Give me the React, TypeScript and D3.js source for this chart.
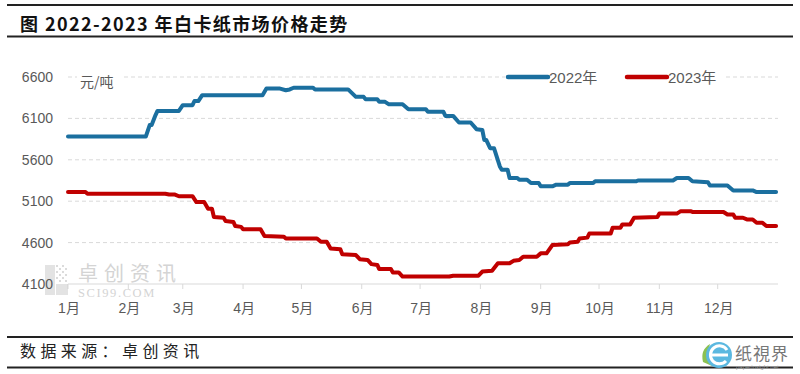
import React from "react";
import * as d3 from "d3";

// 白卡纸价格 (元/吨), dates as MM-DD on a shared month axis
const dates2022 = [
  "01-01", "02-10", "02-12", "02-13", "02-15", "02-16", "02-27", "03-01", "03-06", "03-07",
  "03-09", "03-11", "04-11", "04-13", "04-20", "04-23", "04-25", "04-27", "05-07", "05-08",
  "05-25", "05-29", "06-02", "06-03", "06-09", "06-10", "06-13", "06-15", "06-22", "06-25",
  "07-04", "07-05", "07-13", "07-14", "07-18", "07-21", "07-27", "07-30", "08-02", "08-03",
  "08-04", "08-06", "08-08", "08-11", "08-12", "08-15", "08-16", "08-20", "08-21", "08-25",
  "08-27", "08-31", "09-01", "09-07", "09-09", "09-15", "09-16", "09-28", "09-29", "10-20",
  "10-21", "11-08", "11-10", "11-16", "11-18", "11-26", "11-27", "12-06", "12-09", "12-19",
  "12-21", "12-31",
];
const values2022 = [
  5880, 5880, 6020, 6020, 6140, 6190, 6190, 6260, 6260, 6310,
  6310, 6380, 6380, 6460, 6460, 6440, 6450, 6470, 6470, 6450,
  6450, 6360, 6360, 6330, 6330, 6300, 6300, 6270, 6270, 6210,
  6210, 6180, 6180, 6130, 6130, 6050, 6050, 5970, 5960, 5840,
  5840, 5740, 5740, 5520, 5480, 5480, 5380, 5380, 5360, 5360,
  5320, 5320, 5280, 5280, 5300, 5300, 5320, 5320, 5340, 5340,
  5350, 5350, 5380, 5380, 5340, 5330, 5290, 5290, 5230, 5230,
  5210, 5210,
];

const dates2023 = [
  "01-01", "01-10", "01-11", "02-20", "02-22", "02-25", "02-27", "03-06", "03-08", "03-12",
  "03-14", "03-16", "03-17", "03-22", "03-23", "03-27", "03-28", "03-31", "04-01", "04-10",
  "04-12", "04-22", "04-23", "05-09", "05-11", "05-14", "05-16", "05-21", "05-22", "05-29",
  "05-31", "06-04", "06-06", "06-09", "06-10", "06-16", "06-17", "06-20", "06-22", "07-16",
  "07-18", "07-31", "08-02", "08-07", "08-10", "08-16", "08-18", "08-21", "08-23", "08-30",
  "09-01", "09-04", "09-07", "09-15", "09-16", "09-20", "09-21", "09-25", "09-26", "10-07",
  "10-08", "10-12", "10-13", "10-17", "10-19", "10-31", "11-01", "11-10", "11-12", "11-17",
  "11-18", "12-04", "12-06", "12-09", "12-10", "12-14", "12-16", "12-19", "12-21", "12-24",
  "12-26", "12-31",
];
const values2023 = [
  5210, 5210, 5190, 5190, 5180, 5180, 5160, 5160, 5090, 5090,
  5010, 5010, 4910, 4900, 4860, 4850, 4800, 4790, 4760, 4760,
  4680, 4670, 4650, 4650, 4610, 4610, 4530, 4520, 4460, 4450,
  4400, 4390, 4340, 4330, 4280, 4280, 4240, 4240, 4190, 4190,
  4200, 4200, 4250, 4260, 4350, 4350, 4380, 4390, 4430, 4430,
  4470, 4470, 4570, 4580, 4600, 4610, 4650, 4660, 4710, 4710,
  4780, 4780, 4820, 4820, 4900, 4910, 4950, 4950, 4980, 4980,
  4970, 4970, 4940, 4940, 4900, 4900, 4880, 4880, 4840, 4840,
  4800, 4800,
];

const yTicks = [4100, 4600, 5100, 5600, 6100, 6600];
const monthLabels = ["1月", "2月", "3月", "4月", "5月", "6月", "7月", "8月", "9月", "10月", "11月", "12月"];
const seriesNames = ["2022年", "2023年"];
const colors = ["#1b6f9f", "#c00000"];

const W = 800;
const H = 374;
const parse = d3.timeParse("%Y-%m-%d");

export default function App() {
  const x = d3
    .scaleTime()
    .domain([new Date(2022, 0, 1), new Date(2023, 0, 1)])
    .range([68, 778]);
  const y = d3.scaleLinear().domain([4100, 6600]).range([284, 77]);

  const series = [
    dates2022.map((d, i) => ({ date: parse("2022-" + d), value: values2022[i] })),
    dates2023.map((d, i) => ({ date: parse("2022-" + d), value: values2023[i] })),
  ];

  const line = d3
    .line<{ date: Date | null; value: number }>()
    .x((d) => x(d.date as Date))
    .y((d) => y(d.value));

  const monthTicks = d3.timeMonth.range(new Date(2022, 0, 1), new Date(2023, 0, 1));

  const labelFont = "'Liberation Sans', 'Noto Sans CJK SC', sans-serif";
  const cjk = "'Noto Sans CJK SC', sans-serif";

  // watermark icon cells
  const cells: [number, number][] = [];
  for (let r = 0; r < 6; r++) for (let c = 0; c < 4; c++) if ((r + c) % 2 === 0) cells.push([c, r]);

  return (
    <svg
      width={W}
      height={H}
      style={{ position: "absolute", left: 0, top: 0, background: "#fff" }}
    >
      {/* title block */}
      <line x1={7} x2={793} y1={5} y2={5} stroke="#222" strokeWidth={1.8} />
      <text x={20} y={31} fontFamily={cjk} fontWeight="bold" fontSize={18} letterSpacing={1.4} fill="#111">
        图 2022-2023 年白卡纸市场价格走势
      </text>
      <line x1={7} x2={793} y1={36.5} y2={36.5} stroke="#222" strokeWidth={1.8} />

      {/* grid */}
      {yTicks.slice(1).map((t) => (
        <line key={t} x1={68} x2={778} y1={y(t)} y2={y(t)} stroke="#d9d9d9" strokeWidth={1} strokeDasharray="4,3" />
      ))}
      <line x1={68} x2={778} y1={y(4100)} y2={y(4100)} stroke="#d9d9d9" strokeWidth={1} />
      {monthTicks.map((m, i) => (
        <line key={i} x1={x(m)} x2={x(m)} y1={284} y2={289} stroke="#d9d9d9" strokeWidth={1} />
      ))}

      {/* watermark */}
      <g opacity={0.5}>
        <rect x={45} y={263} width={23} height={32} fill="#fff" />
        <rect x={45} y={265} width={10} height={30} fill="#c8c8c8" />
        {cells.map(([c, r], i) => (
          <rect key={i} x={56 + c * 3} y={265 + r * 3} width={2} height={2} fill="#b8b8b8" />
        ))}
        <rect x={56} y={284} width={12} height={11} fill="#c8c8c8" />
        <text x={78} y={281} fontFamily={cjk} fontSize={20} letterSpacing={6} fill="#aaa">
          卓创资讯
        </text>
        <text x={78} y={297} fontFamily="'Liberation Serif', serif" fontSize={12.5} letterSpacing={1.6} fill="#aaa">
          SCI99.COM
        </text>
      </g>

      {/* y labels */}
      {yTicks.map((t) => (
        <text key={t} x={53} y={y(t) + 5} textAnchor="end" fontFamily={labelFont} fontSize={14} fill="#595959">
          {t}
        </text>
      ))}
      {/* x labels */}
      {monthTicks.map((m, i) => (
        <text key={i} x={x(m) + 1} y={313} textAnchor="middle" fontFamily={labelFont} fontSize={14} fill="#595959">
          {monthLabels[i]}
        </text>
      ))}

      {/* unit */}
      <rect x={77} y={72} width={46} height={18} fill="#fff" />
      <text x={80} y={87} fontFamily={cjk} fontSize={14} fill="#595959">
        元/吨
      </text>

      {/* series */}
      {series.map((s, i) => (
        <path key={i} d={line(s) || ""} fill="none" stroke={colors[i]} strokeWidth={4} strokeLinejoin="round" strokeLinecap="round" />
      ))}

      {/* legend */}
      <rect x={505} y={68} width={220} height={18} fill="#fff" />
      {seriesNames.map((n, i) => (
        <g key={n} transform={`translate(${508 + i * 119},0)`}>
          <line x1={0} x2={40} y1={77} y2={77} stroke={colors[i]} strokeWidth={4.5} strokeLinecap="round" />
          <text x={41} y={82.5} fontFamily={labelFont} fontSize={15} fill="#595959">
            {n}
          </text>
        </g>
      ))}

      {/* source block */}
      <line x1={7} x2={793} y1={337} y2={337} stroke="#222" strokeWidth={1.8} />
      <text x={20} y={357} fontFamily={cjk} fontSize={16} letterSpacing={4.4} fill="#222">
        数据来源：卓创资讯
      </text>
      <line x1={7} x2={793} y1={367.5} y2={367.5} stroke="#222" strokeWidth={1.8} />

      {/* logo */}
      <g>
        <path d="M703,362 Q700,350 710,344 Q706,354 712,366 Z" fill="#8cc152" />
        <circle cx={719} cy={355} r={13} fill="#5bb8e0" />
        <path d="M710,355 L728,355 M727,350 A9,9 0 1 0 726,361" fill="none" stroke="#fff" strokeWidth={3} />
        <text x={735} y={360} fontFamily={cjk} fontSize={17} letterSpacing={1} fill="#777">
          纸視界
        </text>
        <text x={736} y={369} fontFamily={labelFont} fontSize={6} fill="#999">
          paperinsight.net
        </text>
      </g>
    </svg>
  );
}
